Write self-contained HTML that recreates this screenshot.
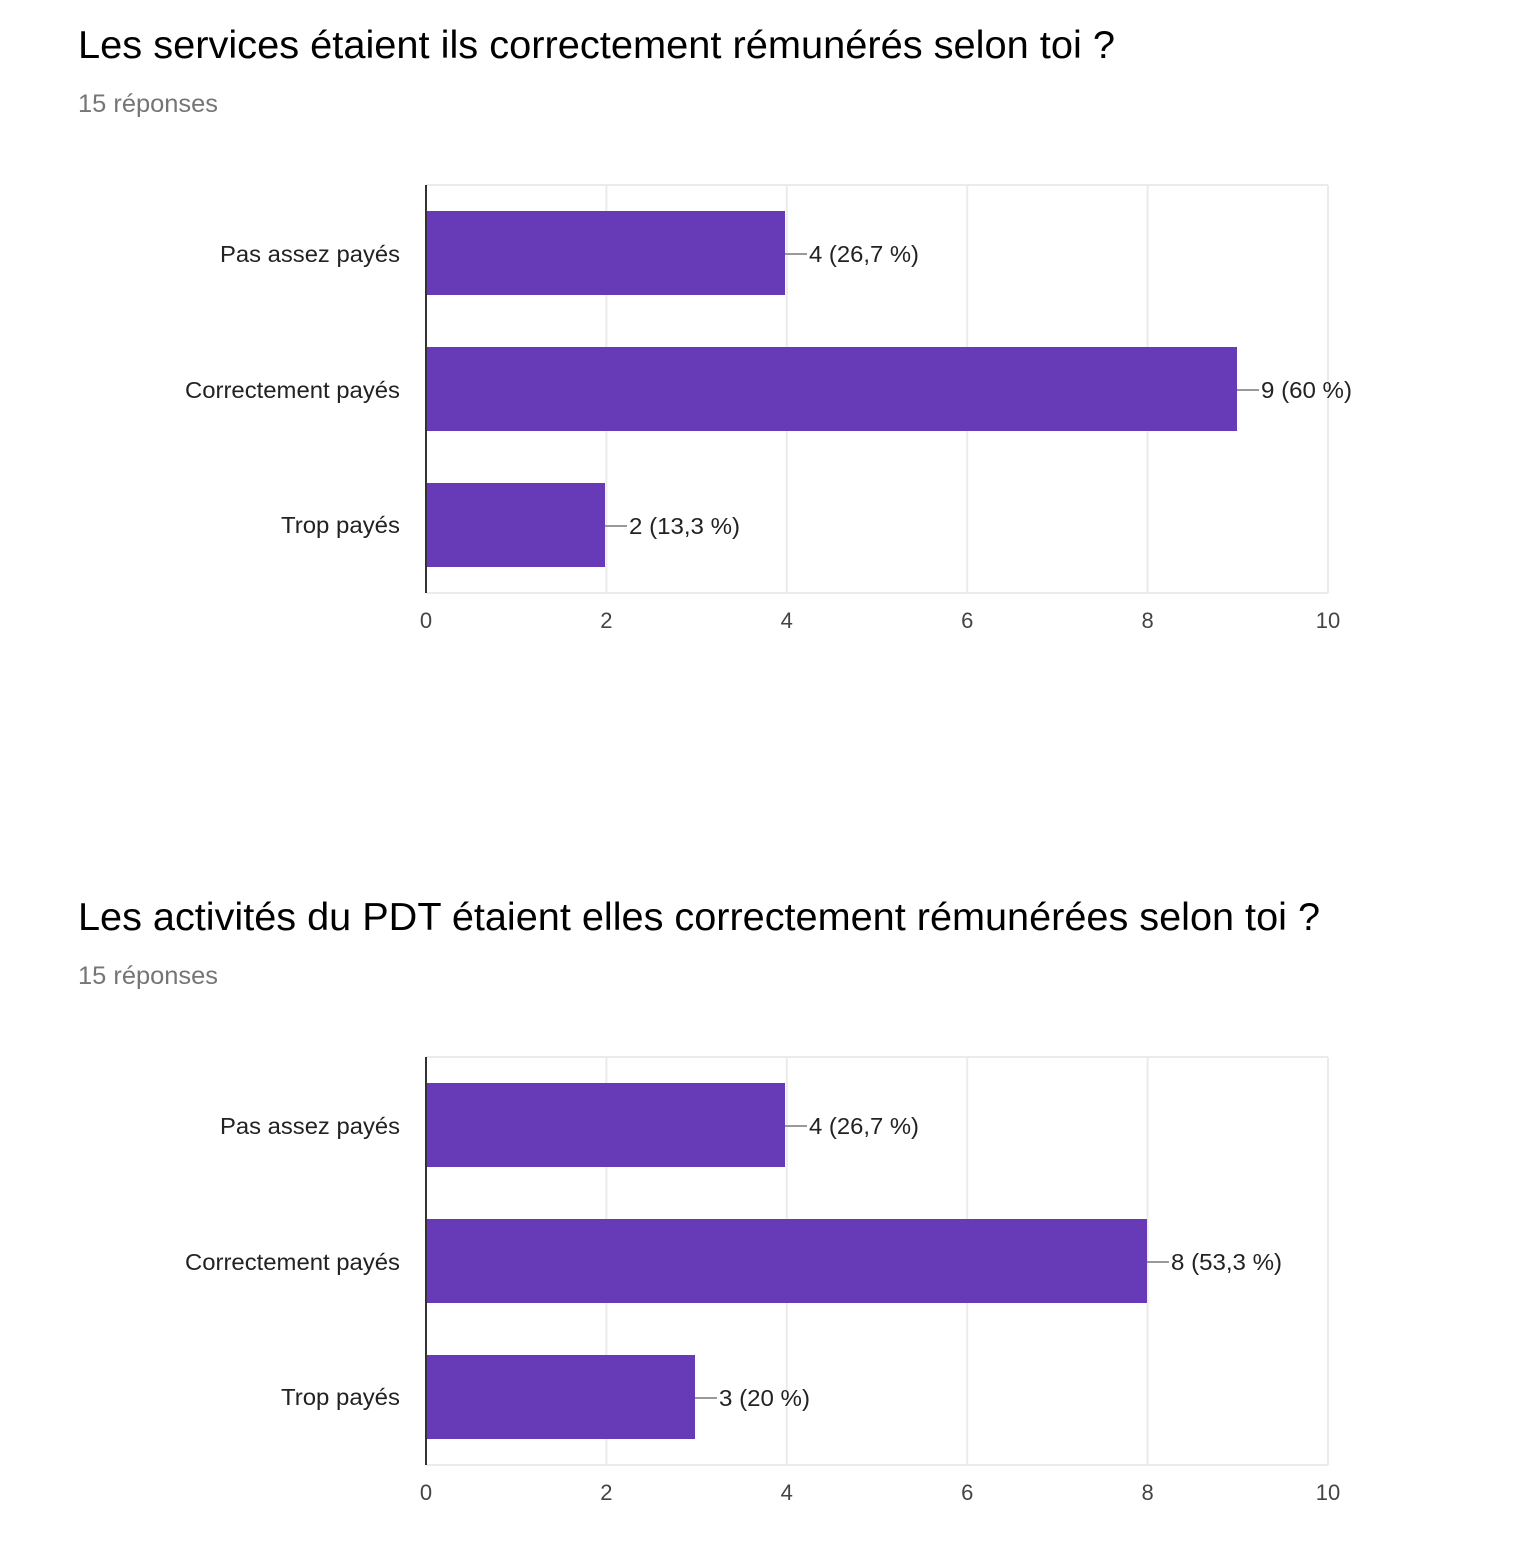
<!DOCTYPE html>
<html><head><meta charset="utf-8"><style>
html,body{margin:0;padding:0;background:#fff;}
svg{display:block;font-family:"Liberation Sans",Arial,sans-serif;}
.t{font-size:39px;fill:#000;}
.s{font-size:25px;fill:#757575;}
.c{font-size:23.5px;fill:#222;text-anchor:end;}
.v{font-size:23.5px;fill:#222;}
.k{font-size:22px;fill:#444;text-anchor:middle;}
</style></head><body>
<svg width="1530" height="1544" viewBox="0 0 1530 1544">
<defs>
<g id="grid">
<rect x="426" y="185" width="902" height="408" fill="#fff"/>
<g stroke="#ebebeb" stroke-width="2">
<line x1="426" y1="185" x2="1328" y2="185"/>
<line x1="606.4" y1="185" x2="606.4" y2="593"/>
<line x1="786.8" y1="185" x2="786.8" y2="593"/>
<line x1="967.2" y1="185" x2="967.2" y2="593"/>
<line x1="1147.6" y1="185" x2="1147.6" y2="593"/>
<line x1="1328" y1="185" x2="1328" y2="593"/>
<line x1="426" y1="593" x2="1328" y2="593"/>
</g>
<text class="k" x="426" y="628">0</text>
<text class="k" x="606.4" y="628">2</text>
<text class="k" x="786.8" y="628">4</text>
<text class="k" x="967.2" y="628">6</text>
<text class="k" x="1147.6" y="628">8</text>
<text class="k" x="1328" y="628">10</text>
<text class="c" x="400" y="262" textLength="180" lengthAdjust="spacingAndGlyphs">Pas assez payés</text>
<text class="c" x="400" y="398" textLength="215" lengthAdjust="spacingAndGlyphs">Correctement payés</text>
<text class="c" x="400" y="533" textLength="119" lengthAdjust="spacingAndGlyphs">Trop payés</text>
</g>
</defs>

<text class="t" x="78" y="58" textLength="1037" lengthAdjust="spacingAndGlyphs">Les services étaient ils correctement rémunérés selon toi ?</text>
<text class="s" x="78" y="112" textLength="140" lengthAdjust="spacingAndGlyphs">15 réponses</text>
<use href="#grid"/>
<g fill="#673ab7">
<rect x="426" y="211" width="359" height="84"/>
<rect x="426" y="347" width="811" height="84"/>
<rect x="426" y="483" width="179" height="84"/>
</g>
<g stroke="#999" stroke-width="2">
<line x1="785" y1="254" x2="807" y2="254"/>
<line x1="1237" y1="390" x2="1259" y2="390"/>
<line x1="605" y1="526" x2="627" y2="526"/>
</g>
<text class="v" x="809" y="262" textLength="110" lengthAdjust="spacingAndGlyphs">4 (26,7 %)</text>
<text class="v" x="1261" y="398" textLength="91" lengthAdjust="spacingAndGlyphs">9 (60 %)</text>
<text class="v" x="629" y="534" textLength="111" lengthAdjust="spacingAndGlyphs">2 (13,3 %)</text>
<line x1="426" y1="185" x2="426" y2="593" stroke="#333" stroke-width="2"/>

<text class="t" x="78" y="930" textLength="1242" lengthAdjust="spacingAndGlyphs">Les activités du PDT étaient elles correctement rémunérées selon toi ?</text>
<text class="s" x="78" y="984" textLength="140" lengthAdjust="spacingAndGlyphs">15 réponses</text>
<g transform="translate(0,872)">
<use href="#grid"/>
<g fill="#673ab7">
<rect x="426" y="211" width="359" height="84"/>
<rect x="426" y="347" width="721" height="84"/>
<rect x="426" y="483" width="269" height="84"/>
</g>
<g stroke="#999" stroke-width="2">
<line x1="785" y1="254" x2="807" y2="254"/>
<line x1="1147" y1="390" x2="1169" y2="390"/>
<line x1="695" y1="526" x2="717" y2="526"/>
</g>
<text class="v" x="809" y="262" textLength="110" lengthAdjust="spacingAndGlyphs">4 (26,7 %)</text>
<text class="v" x="1171" y="398" textLength="111" lengthAdjust="spacingAndGlyphs">8 (53,3 %)</text>
<text class="v" x="719" y="534" textLength="91" lengthAdjust="spacingAndGlyphs">3 (20 %)</text>
<line x1="426" y1="185" x2="426" y2="593" stroke="#333" stroke-width="2"/>
</g>
</svg>
</body></html>
